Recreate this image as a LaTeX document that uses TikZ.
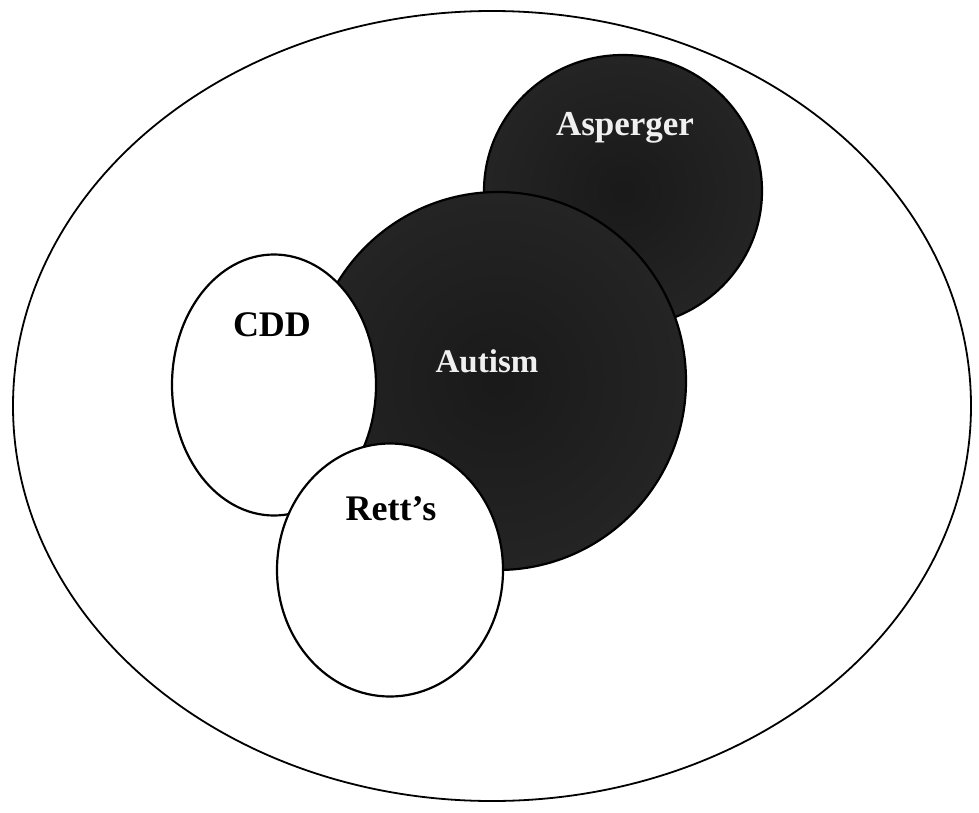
\documentclass[tikz,border=0pt]{standalone}
\usepackage{fontspec}
\setmainfont{Liberation Serif}
\usetikzlibrary{shapes.geometric}
\pgfdeclareradialshading{darkblob}{\pgfpoint{0bp}{0bp}}{color(0bp)=(black!90); color(30bp)=(black!85); color(42bp)=(black!72); color(50bp)=(black!52)}
\begin{document}
\begin{tikzpicture}[x=1pt,y=-1pt,
  blob/.style={ellipse, draw=black, line width=2.2pt, inner sep=0pt, outer sep=0pt},
  darkfill/.style={shading=darkblob},
  lbl/.style={font=\fontsize{36}{40}\selectfont\bfseries, inner sep=0pt},
  lightlbl/.style={lbl, text=white!94!black},
  ]
\useasboundingbox (0,0) rectangle (979,813);
\node[blob, fill=white, line width=1.8pt, minimum width=958pt, minimum height=790pt] (outer) at (492,406) {};
\node[blob, darkfill, minimum width=278pt, minimum height=272pt] (asp) at (623,191) {};
\node[blob, darkfill, minimum width=376pt, minimum height=378pt] (aut) at (498,381) {};
\node[blob, fill=white, minimum width=204pt, minimum height=261pt] (cdd) at (274,385) {};
\node[blob, fill=white, minimum width=226pt, minimum height=253pt] (rett) at (390,570) {};
\node[lightlbl, font=\fontsize{35}{40}\selectfont\bfseries] (asplbl) at (625,128) {Asperger};
\node[lightlbl, font=\fontsize{33}{40}\selectfont\bfseries] (autlbl) at (487,361) {Autism};
\node[lbl] (cddlbl) at (272,325) {CDD};
\node[lbl] (rettlbl) at (391,509) {Rett’s};
\end{tikzpicture}
\end{document}
